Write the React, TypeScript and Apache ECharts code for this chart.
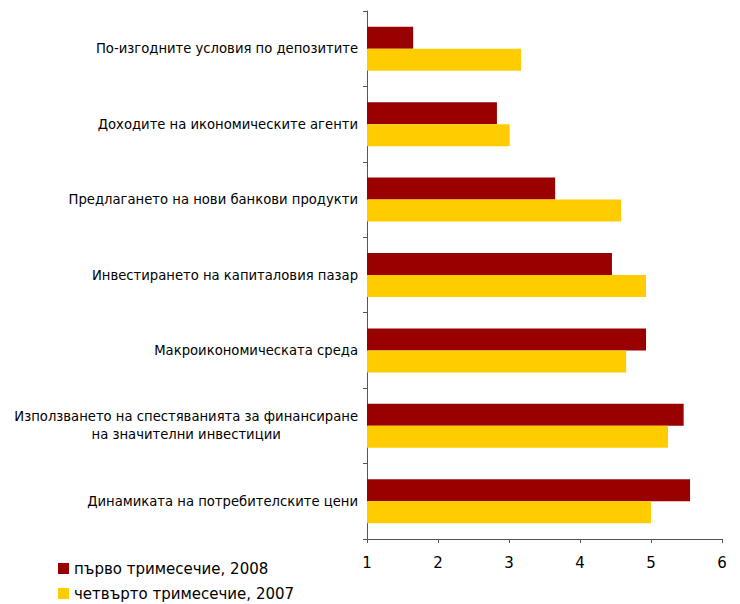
import React, { useEffect, useRef } from "react";
import * as echarts from "echarts";

const categories = [
  "По-изгодните условия по депозитите",
  "Доходите на икономическите агенти",
  "Предлагането на нови банкови продукти",
  "Инвестирането на капиталовия пазар",
  "Макроикономическата среда",
  "Използването на спестяванията за финансиране\nна значителни инвестиции",
  "Динамиката на потребителските цени",
];
const seriesNames = ["първо тримесечие, 2008", "четвърто тримесечие, 2007"];
const q1_2008 = [1.65, 2.83, 3.65, 4.45, 4.93, 5.46, 5.55];
const q4_2007 = [3.17, 3.01, 4.58, 4.93, 4.65, 5.24, 5.0];
const colors = ["#990000", "#FFCC00"];

export default function App() {
  const ref = useRef<HTMLDivElement>(null);
  useEffect(() => {
    const chart = echarts.init(ref.current!, null, { renderer: "svg" });
    const font = "'DejaVu Sans', Verdana, sans-serif";
    const legendText = { fontFamily: font, fontSize: 15, color: "#000" };
    chart.setOption({
      animation: false,
      backgroundColor: "#fff",
      grid: { left: 367, right: 18, top: 11, bottom: 65, containLabel: false },
      legend: [
        {
          left: 58,
          top: 561,
          padding: 0,
          itemWidth: 11,
          itemHeight: 11,
          itemGap: 8,
          icon: "rect",
          textStyle: legendText,
          data: [seriesNames[0]],
        },
        {
          left: 58,
          top: 586,
          padding: 0,
          itemWidth: 11,
          itemHeight: 11,
          itemGap: 8,
          icon: "rect",
          textStyle: legendText,
          data: [seriesNames[1]],
        },
      ],
      xAxis: {
        type: "value",
        min: 1,
        max: 6,
        interval: 1,
        axisLine: { show: true, lineStyle: { color: "#555", width: 1 } },
        axisTick: { show: true, length: 4, lineStyle: { color: "#555" } },
        splitLine: { show: false },
        axisLabel: { fontFamily: font, fontSize: 15, color: "#000", margin: 16 },
      },
      yAxis: {
        type: "category",
        inverse: true,
        data: categories,
        axisLine: { show: true, lineStyle: { color: "#555", width: 1 } },
        axisTick: { show: true, length: 4, lineStyle: { color: "#555" } },
        axisLabel: {
          margin: 9,
          align: "right",
          formatter: (v: string) =>
            v
              .split("\n")
              .map((l) => "{c|" + l + "}")
              .join("\n"),
          rich: {
            c: {
              fontFamily: font,
              fontSize: 13.2,
              color: "#000",
              align: "center",
              lineHeight: 18,
            },
          },
        },
      },
      series: [
        {
          name: seriesNames[0],
          type: "bar",
          data: q1_2008,
          itemStyle: { color: colors[0] },
          barWidth: 22,
          barGap: "0%",
        },
        {
          name: seriesNames[1],
          type: "bar",
          data: q4_2007,
          itemStyle: { color: colors[1] },
          barWidth: 22,
          barGap: "0%",
        },
      ],
    });
    return () => chart.dispose();
  }, []);
  return <div ref={ref} style={{ width: 740, height: 604, position: "absolute", left: 0, top: 0 }} />;
}
